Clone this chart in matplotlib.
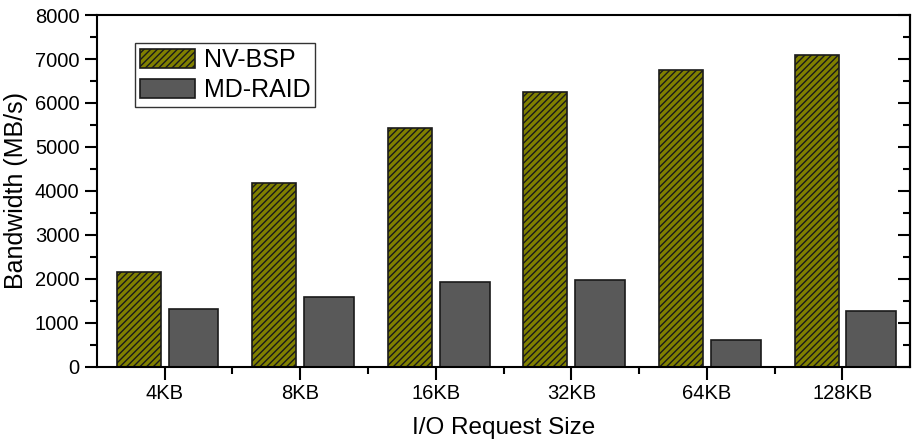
import numpy as np
import matplotlib
matplotlib.use("Agg")
import matplotlib.pyplot as plt
from matplotlib.ticker import MultipleLocator, FixedLocator

sizes = ["4KB", "8KB", "16KB", "32KB", "64KB", "128KB"]
nv_bsp = [2150, 4190, 5440, 6250, 6740, 7100]
md_raid = [1320, 1590, 1930, 1970, 615, 1270]

plt.rcParams['font.family'] = ['Liberation Sans', 'DejaVu Sans']
plt.rcParams['hatch.linewidth'] = 1.0

fig, ax = plt.subplots(figsize=(9.13, 4.43), dpi=100)
fig.subplots_adjust(left=0.106, right=0.997, top=0.966, bottom=0.172)

x = np.arange(len(sizes))
ax.bar(x - 0.191, nv_bsp, width=0.324, color='#808000', edgecolor='#1a1a1a',
       hatch='/////', linewidth=1.2, label='NV-BSP')
ax.bar(x + 0.213, md_raid, width=0.368, color='#595959', edgecolor='#1a1a1a',
       linewidth=1.2, label='MD-RAID')

ax.set_xlim(-0.5, 5.5)
ax.set_ylim(0, 8000)
ax.set_xticks(x)
ax.set_xticklabels(sizes)
ax.xaxis.set_minor_locator(FixedLocator(x[:-1] + 0.5))
ax.yaxis.set_major_locator(MultipleLocator(1000))
ax.yaxis.set_minor_locator(MultipleLocator(500))

ax.tick_params(axis='both', which='major', length=9, width=1.5, labelsize=14.5, direction='out')
ax.tick_params(axis='both', which='minor', length=5, width=1.5, direction='out')

sec = ax.secondary_yaxis('right')
sec.yaxis.set_major_locator(MultipleLocator(1000))
sec.yaxis.set_minor_locator(MultipleLocator(500))
sec.tick_params(which='major', direction='in', length=9, width=1.5, labelright=False)
sec.tick_params(which='minor', direction='in', length=5, width=1.5)
sec.spines['right'].set_linewidth(1.5)

for s in ax.spines.values():
    s.set_linewidth(1.5)

ax.set_xlabel('I/O Request Size', fontsize=17.5, labelpad=10)
ax.set_ylabel('Bandwidth (MB/s)', fontsize=18, labelpad=5)

leg = ax.legend(loc='upper left', bbox_to_anchor=(0.047, 0.92), borderaxespad=0, fontsize=18,
                fancybox=False, edgecolor='black', handlelength=2.2, handleheight=0.8,
                borderpad=0.2, labelspacing=0.25, handletextpad=0.35)
leg.get_frame().set_linewidth(1.0)

fig.savefig('out.png', dpi=100)
